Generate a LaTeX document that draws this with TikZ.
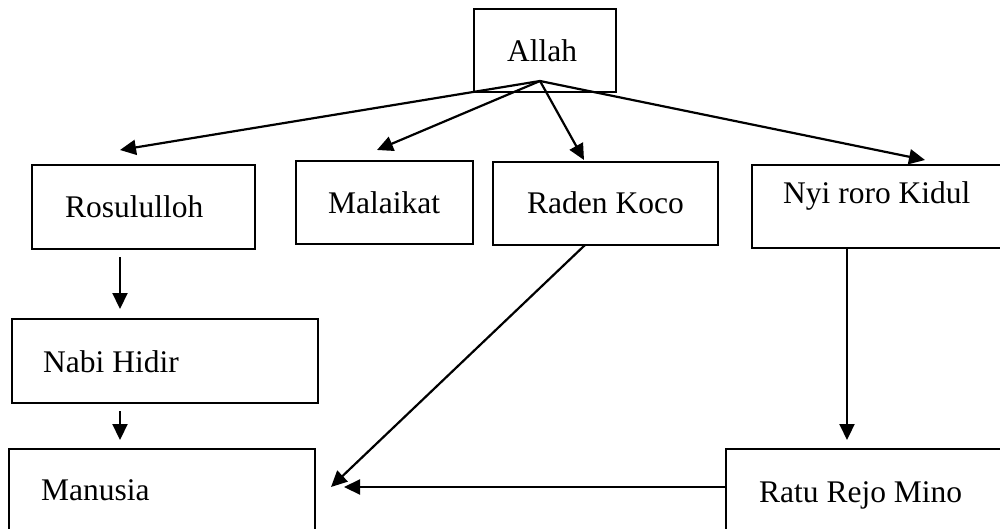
\documentclass[tikz,border=0pt]{standalone}
\usepackage{fontspec}
\setmainfont{Liberation Serif}
\usetikzlibrary{arrows.meta}
\begin{document}
\begin{tikzpicture}[x=1pt,y=-1pt,
  box/.style={draw=black, line width=2pt, rectangle, inner sep=0pt, outer sep=0pt},
  lbl/.style={anchor=base west, inner sep=0pt, font=\fontsize{31.5}{36}\selectfont},
  conn/.style={line width=2.2pt, -{Triangle[length=16pt,width=15pt]}}]
\useasboundingbox (0,0) rectangle (1000,529);
\clip (0,0) rectangle (1000,529);
% boxes
\node[box, minimum width=142pt, minimum height=83pt] (allah) at (545,50.5) {};
\node[box, minimum width=223pt, minimum height=84pt] (ros) at (143.5,207) {};
\node[box, minimum width=177pt, minimum height=83pt] (mal) at (384.5,202.5) {};
\node[box, minimum width=225pt, minimum height=83pt] (rad) at (605.5,203.5) {};
\node[box, minimum width=258pt, minimum height=83pt] (nyi) at (881,206.5) {};
\node[box, minimum width=306pt, minimum height=84pt] (nabi) at (165,361) {};
\node[box, minimum width=306pt, minimum height=91pt] (man) at (162,494.5) {};
\node[box, minimum width=284pt, minimum height=91pt] (ratu) at (868,494.5) {};
% labels
\node[lbl] (tallah) at (507,62) {Allah};
\node[lbl] (tros) at (65,218) {Rosululloh};
\node[lbl] (tmal) at (328,214) {Malaikat};
\node[lbl] (trad) at (527,214) {Raden Koco};
\node[lbl] (tnyi) at (783,204) {Nyi roro Kidul};
\node[lbl] (tnabi) at (43,372) {Nabi Hidir};
\node[lbl] (tman) at (41,500) {Manusia};
\node[lbl] (tratu) at (759,502) {Ratu Rejo Mino};
% connector ends
\coordinate (src) at (540,81);
\coordinate (eros) at (120,150);
\coordinate (emal) at (377,150);
\coordinate (erad) at (584,160);
\coordinate (enyi) at (925,160);
\coordinate (rosout) at (120,257);
\coordinate (nabiin) at (120,309);
\coordinate (nabiout) at (120,411);
\coordinate (manin) at (120,440);
\coordinate (radout) at (585,245);
\coordinate (mandiag) at (331,487);
\coordinate (ratuout) at (726,487);
\coordinate (manright) at (344,487);
\coordinate (nyiout) at (847,248);
\coordinate (ratuin) at (847,440);
% connectors
\draw[conn] (src) -- (eros);
\draw[conn] (src) -- (emal);
\draw[conn] (src) -- (erad);
\draw[conn] (src) -- (enyi);
\draw[conn] (rosout) -- (nabiin);
\draw[conn] (nabiout) -- (manin);
\draw[conn] (radout) -- (mandiag);
\draw[conn] (ratuout) -- (manright);
\draw[conn] (nyiout) -- (ratuin);
\end{tikzpicture}
\end{document}
